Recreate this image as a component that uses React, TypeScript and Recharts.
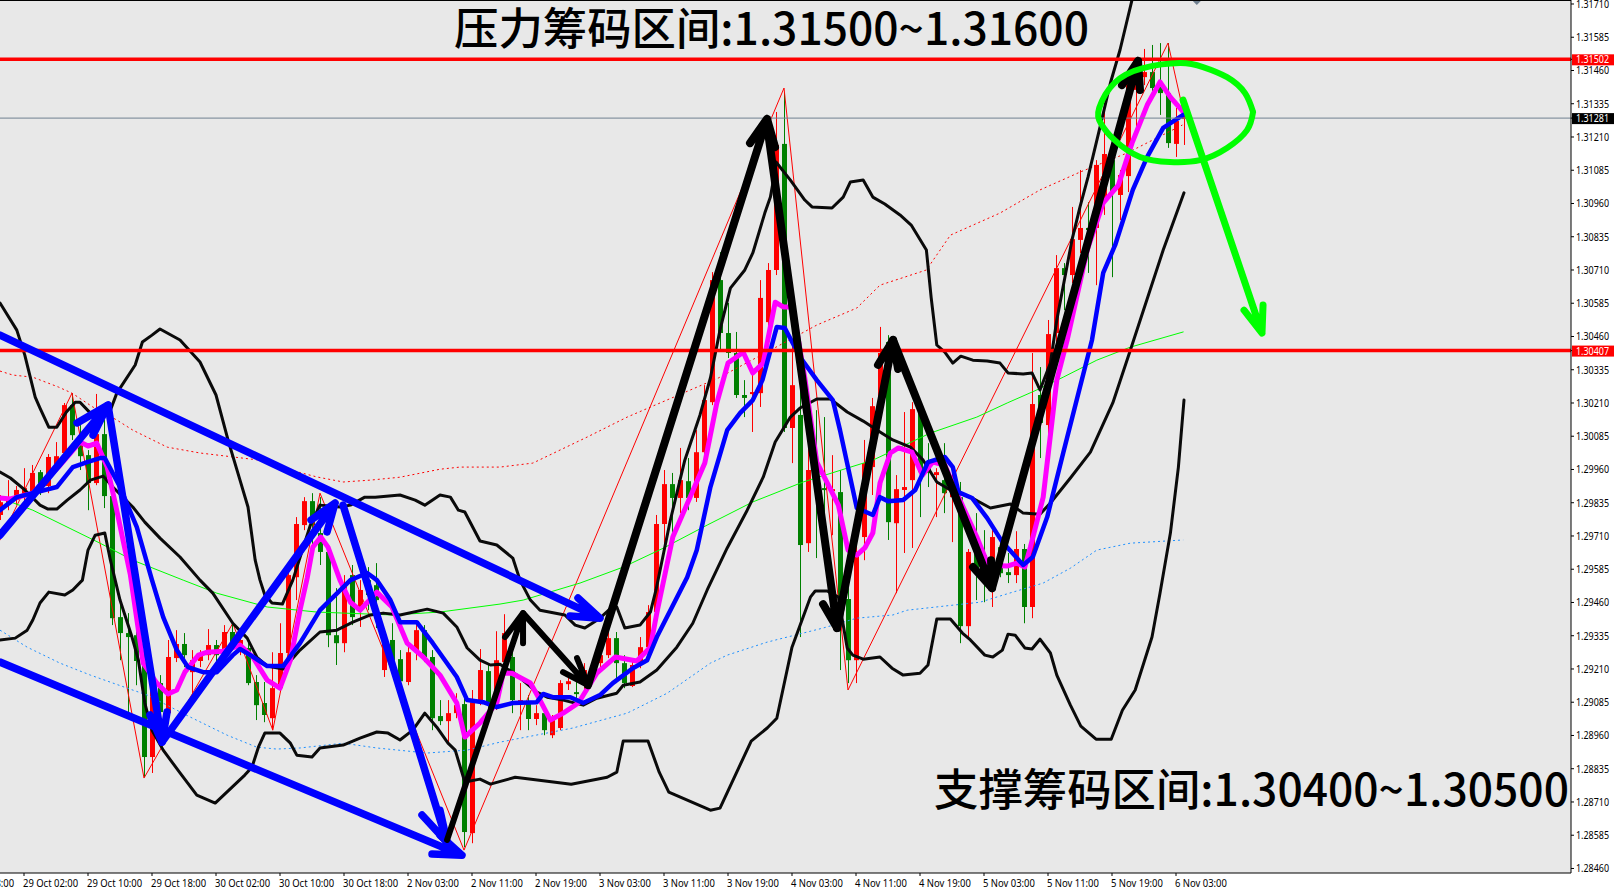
import { ComposedChart, Bar, Line, XAxis, YAxis, CartesianGrid, ReferenceLine, ReferenceDot } from "recharts";

// prices are in points above 1.28000, x is the H1 bar index
const opens = [1789,1834,1845,1856,1871,1950,1898,1973,2022,2202,2089,2014,1909,2093,1860,1405,1345,1337,1232,879,1157,1044,1251,1304,1198,1240,1262,1300,1281,1349,1289,1289,1161,1082,1025,1138,1270,1555,1751,1841,1721,1650,1337,1307,1563,1443,1544,1525,1206,1319,1247,1161,1273,1356,1255,1033,1014,1044,1078,593,1085,1202,1082,1236,1255,1082,1082,1022,1044,961,988,1153,1123,1161,1198,1232,1262,1326,1232,1146,1225,1292,1424,1755,1905,1853,1916,1853,2025,2213,2672,2473,2398,2240,2247,2247,2514,2710,3184,2116,2165,1683,1958,1890,1879,1875,1473,1243,1706,1969,2195,2439,1758,1883,1920,2172,1977,1939,1920,1856,1856,1371,1646,1638,1608,1668,1574,1563,1661,1443,2240,2127,2473,2717,2691,2823,2868,2868,2973,3123,2992,3063,3387,3435,3454,3417,3375,3184,3278];
const closes = [1837,1856,1883,1890,1947,1883,2007,2010,2202,2089,2010,1909,2093,1860,1401,1345,1330,1240,879,1138,1048,1255,1304,1262,1243,1262,1300,1262,1349,1307,1319,1157,1074,1037,1138,1270,1563,1755,1841,1751,1650,1337,1307,1525,1405,1507,1488,1469,1319,1243,1164,1273,1356,1255,1025,1014,1044,1074,597,1085,1206,1085,1243,1345,1093,1093,1022,1044,980,1018,1157,1164,1116,1206,1213,1262,1326,1232,1157,1225,1292,1424,1755,1905,1853,1920,1853,2025,2221,2672,2473,2398,2240,2229,2251,2605,2710,3180,2116,2277,1676,1958,1883,1883,1886,1469,1243,1646,1984,2198,2398,1762,1886,1894,2187,1950,1947,1950,1871,1920,1371,1650,1582,1582,1706,1570,1563,1661,1443,2206,2135,2469,2717,2691,2826,2868,2860,3105,3146,3000,3067,3424,3462,3454,3394,3375,3187,3270,3285];
const highs = [1864,1920,1898,1965,1977,1958,2018,2063,2210,2247,2127,2033,2244,2146,1883,1469,1420,1394,1281,1168,1187,1319,1356,1345,1281,1281,1360,1319,1375,1382,1349,1319,1187,1161,1273,1382,1601,1781,1856,1871,1856,1676,1514,1563,1601,1544,1593,1608,1356,1382,1281,1300,1375,1375,1281,1093,1093,1119,1131,1131,1285,1225,1352,1416,1281,1157,1112,1074,1063,1037,1168,1194,1168,1232,1243,1330,1349,1349,1262,1243,1330,1450,1789,1958,1947,2041,2003,2108,2277,2702,2777,2586,2477,2296,2315,2672,2736,3304,3375,2428,2277,2146,2183,2157,2014,1958,1514,1713,2071,2229,2496,2465,1939,2176,2213,2202,2059,1965,2059,1958,1913,1661,1796,1732,1732,1695,1646,1728,1680,2398,2345,2522,2766,2736,2947,3086,2965,3123,3338,3142,3086,3462,3462,3541,3556,3563,3563,3319,3293];
const lows = [1770,1807,1826,1834,1856,1864,1871,1958,2010,2071,1958,1807,1901,1815,1375,1243,1044,1149,804,819,999,1018,1236,1217,1119,1217,1243,1225,1262,1281,1262,1149,1018,1010,980,1123,1243,1469,1732,1676,1601,1292,1225,1273,1375,1368,1431,1364,1180,1213,1146,1149,1243,1236,980,999,931,1025,540,555,1074,1044,1056,1225,1044,980,980,999,961,950,980,1131,1093,1131,1176,1206,1251,1157,1138,1142,1213,1281,1413,1668,1668,1796,1807,1838,2014,2202,2409,2379,2229,2157,2101,2195,2492,2691,2101,1984,1330,1650,1627,1732,1713,1206,1157,1157,1619,1864,2146,1695,1495,1646,1665,1781,1894,1781,1796,1687,1307,1330,1469,1461,1443,1555,1533,1533,1382,1401,2003,2044,2428,2559,2661,2774,2699,2653,2917,2683,2898,3003,3225,3405,3375,3293,3169,3135,3180];

const xTickIdx = [-5,3,11,19,27,35,43,51,59,67,75,83,91,99,107,115,123,131,139,147];
const xTickLabels = ["28 Oct 18:00","29 Oct 02:00","29 Oct 10:00","29 Oct 18:00","30 Oct 02:00","30 Oct 10:00","30 Oct 18:00","2 Nov 03:00","2 Nov 11:00","2 Nov 19:00","3 Nov 03:00","3 Nov 11:00","3 Nov 19:00","4 Nov 03:00","4 Nov 11:00","4 Nov 19:00","5 Nov 03:00","5 Nov 11:00","5 Nov 19:00","6 Nov 03:00"];
const yTicks = [3710,3585,3460,3335,3210,3085,2960,2835,2710,2585,2460,2335,2210,2085,1960,1835,1710,1585,1460,1335,1210,1085,960,835,710,585,460];
const RES_PRICE = 3502;
const SUP_PRICE = 2407;
const LAST_PRICE = 3281;

type Pt = [number, number];

const upperBand: Pt[] = [[0,2586],[2.1,2484],[3.1,2390],[4.4,2232],[5,2191],[6.1,2119],[7.1,2119],[8.3,2176],[9.4,2213],[10,2213],[11.3,2172],[12.5,2146],[13.8,2183],[14.6,2247],[16.9,2353],[17.8,2439],[19,2465],[20,2488],[22.5,2447],[25,2364],[27,2240],[28.5,2071],[30,1920],[31,1819],[31.9,1619],[32.5,1544],[33.1,1488],[34,1458],[35.3,1454],[36.6,1544],[38.8,1751],[40,1826],[42.5,1819],[43.8,1826],[45.6,1856],[46.9,1856],[50,1864],[51.9,1845],[53.1,1826],[55,1864],[56.3,1856],[57.3,1807],[58.1,1800],[60,1691],[62.1,1676],[64.1,1627],[65,1544],[66.3,1469],[67.5,1431],[70.6,1413],[71.9,1375],[73.1,1364],[75,1401],[76.5,1443],[77.1,1443],[78.1,1364],[80,1375],[81.3,1424],[82,1507],[83.8,1770],[85.6,1995],[87.5,2165],[88.8,2304],[90,2484],[91.3,2642],[93.1,2710],[94.1,2774],[95.6,2924],[96.3,2984],[96.9,3086],[97,3116],[98.8,3048],[100.6,2973],[101.5,2947],[104,2943],[105.4,2984],[106.3,3041],[107.9,3048],[109.1,2984],[110.6,2958],[112.5,2917],[113.9,2879],[115.8,2785],[116.4,2605],[117.1,2428],[118.1,2401],[119.1,2360],[120.1,2386],[121.6,2371],[123.4,2368],[125,2360],[126,2323],[127.9,2319],[129,2323],[130,2259],[131.3,2360],[132.1,2522],[134,2823],[135,2947],[136,3059],[137.5,3247],[138.8,3413],[140,3537],[141.5,3725],[143.1,3875]];
const lowerBand: Pt[] = [[0,1319],[1.9,1326],[3.4,1356],[4.1,1394],[5,1458],[6.1,1499],[8.1,1488],[9.1,1507],[10.3,1544],[11,1657],[11.9,1713],[13.1,1721],[13.8,1619],[15,1469],[16.5,1330],[17.3,1243],[18.1,1082],[19,980],[20.4,905],[22.5,819],[24.6,736],[26.9,706],[30.6,811],[31.5,841],[32.3,916],[33.1,969],[35,969],[36.3,931],[37.1,886],[39,879],[40,913],[42.9,924],[45,950],[47.1,973],[48.5,969],[50,943],[51.6,980],[53.1,1044],[54.6,991],[56,931],[56.9,905],[58.1,785],[60,796],[61.3,777],[64.4,803],[71.4,777],[75.9,803],[77.1,822],[77.9,939],[81,939],[82.4,822],[83.6,747],[88.8,679],[90,687],[93.9,939],[95.9,988],[97.1,1025],[99,1292],[101.3,1480],[101.9,1503],[103.4,1503],[104.8,1480],[105.9,1289],[106.6,1262],[107.9,1247],[110,1255],[111.5,1213],[112.9,1187],[115,1194],[116,1225],[117.1,1398],[118.8,1398],[120.3,1345],[121.3,1319],[123.1,1262],[124.1,1255],[125.3,1281],[126,1341],[126.9,1337],[128.1,1289],[129,1285],[130,1322],[131.3,1270],[132.1,1187],[133.8,1074],[135.1,995],[137,946],[138.9,946],[140.3,1055],[141.9,1131],[144,1330],[145,1495],[146.3,1721],[147.3,1969],[148,2221]];
const midBand: Pt[] = [[0,1950],[1.3,1928],[3.1,1883],[5,1826],[6,1811],[7.1,1811],[8.4,1845],[10,1883],[11.3,1920],[12.9,1935],[14.1,1894],[16.6,1819],[18.1,1762],[20,1702],[22.5,1631],[25,1544],[26.6,1495],[29.1,1382],[30.9,1326],[32.1,1255],[33.4,1221],[35.4,1210],[37.5,1281],[40,1349],[42.1,1356],[44.1,1386],[46.3,1413],[47.9,1420],[50,1413],[53.4,1435],[55.4,1420],[57.1,1368],[58.4,1289],[60,1243],[61.3,1225],[62.5,1228],[64.6,1187],[67.1,1123],[68.4,1104],[70.4,1093],[72.9,1074],[74.6,1100],[77.1,1119],[77.9,1149],[80,1161],[82.1,1206],[84.6,1292],[86.6,1382],[88.4,1507],[90.9,1665],[93.4,1807],[95.4,1931],[96.9,2063],[98.8,2157],[100,2191],[102.1,2225],[103.8,2225],[105.9,2176],[107.9,2142],[110,2101],[111.6,2071],[113.8,2044],[115.4,1995],[117.1,1913],[118.8,1883],[121.3,1856],[123.8,1815],[126.3,1830],[127.9,1796],[130,1792],[131.3,1834],[133.8,1928],[136.3,2025],[139.1,2210],[141.3,2409],[145.4,2785],[148,3000]];
const slowRed: Pt[] = [[0,2330],[1.6,2315],[4.1,2307],[7.3,2270],[9,2247],[11.6,2195],[14.6,2146],[16.6,2108],[20.9,2044],[25,2022],[32.5,1995],[36.3,1958],[39.6,1932],[42.9,1913],[46.3,1920],[50,1931],[55,1961],[57.5,1969],[62.5,1969],[66.6,1984],[73.4,2082],[78.4,2157],[82.5,2210],[89.8,2304],[97.5,2428],[102.1,2503],[107.1,2567],[110,2653],[115.8,2710],[118.8,2841],[125,2924],[130,3011],[135,3078],[140.9,3150],[147.8,3255]];
const slowBlue: Pt[] = [[0,1356],[3.4,1292],[7.5,1232],[11.3,1187],[15.9,1138],[18.4,1112],[23.8,1029],[28.4,961],[32.1,916],[34.6,909],[37.5,913],[42.9,931],[47.1,913],[53.4,894],[58.4,905],[62.5,935],[71.6,988],[78.4,1044],[83.4,1119],[88.8,1232],[90.9,1262],[95.9,1311],[102.9,1364],[107.1,1401],[111.6,1413],[113.4,1431],[117.9,1446],[122.5,1461],[125.4,1488],[130.4,1533],[133.8,1589],[137.1,1657],[141.3,1683],[147.9,1695]];
const slowGreen: Pt[] = [[0,1853],[4.1,1807],[12.5,1683],[16.6,1619],[22.9,1544],[27.1,1495],[33.4,1443],[39.6,1424],[49.1,1413],[55,1424],[62.5,1454],[65.4,1469],[72.5,1533],[77.9,1593],[82.9,1664],[88.4,1751],[94.1,1838],[100.4,1913],[105.9,1965],[109.1,1995],[116.3,2097],[122.1,2157],[125.9,2210],[129.6,2259],[132.9,2307],[137.1,2371],[141.3,2420],[147.9,2477]];
const zigzag: Pt[] = [[0,1695],[9,2247],[18,800],[29.1,1382],[34.1,980],[40,1871],[58,529],[98,3394],[106,1131],[146,3563],[148,3293]];
const fastMagenta: Pt[] = [[0,1853],[1.3,1849],[4.1,1871],[7.3,1969],[10,2063],[11,2048],[12.1,2059],[13.4,1969],[14.4,1834],[16.3,1563],[17.9,1232],[19.6,1157],[21,1116],[22.1,1131],[23.1,1198],[24.8,1262],[25.9,1273],[27.9,1277],[30,1300],[31.6,1255],[33.4,1168],[35,1138],[36.3,1243],[37.5,1431],[38.4,1552],[39.1,1668],[40.1,1706],[41,1668],[42.5,1544],[43.8,1461],[45,1431],[47.1,1499],[49,1443],[50.9,1307],[52.9,1255],[55,1187],[57.1,1082],[58.1,954],[60,1007],[62.1,1082],[62.9,1194],[64,1194],[66.3,1157],[67.5,1093],[68.8,1018],[70.4,1044],[72.3,1082],[74.6,1194],[76.9,1255],[79.6,1240],[81.3,1292],[82.1,1420],[84.1,1706],[85.4,1796],[88.1,1984],[89.6,2210],[91,2360],[92.9,2401],[94.1,2323],[95.4,2360],[96.9,2589],[97.9,2571],[99.1,2571],[100.6,2304],[102.1,1988],[104.8,1826],[106,1657],[107.1,1638],[108.1,1665],[109.1,1721],[110,1909],[111.3,2022],[112.3,2041],[114,2025],[115.3,1939],[116.6,1988],[118.1,1977],[119.6,1871],[122.1,1706],[123.5,1601],[125.9,1597],[127.1,1608],[128.1,1593],[128.8,1668],[130.4,1856],[132.1,2296],[133.4,2447],[135.9,2785],[137.9,2962],[139.8,3029],[141.5,3187],[143.4,3330],[145,3417],[146.3,3360],[147.9,3304]];
const fastBlue: Pt[] = [[0,1807],[2.1,1856],[4.1,1871],[7.1,1894],[9.1,1969],[10.9,1988],[12.5,2003],[13.1,2003],[15,1894],[17.1,1743],[19,1544],[20.4,1405],[22.1,1281],[23.5,1217],[25.4,1198],[27.1,1198],[29.1,1262],[30,1285],[31.3,1262],[33.4,1221],[35.4,1221],[37.5,1307],[40,1431],[43.8,1544],[45.9,1571],[47.1,1544],[48.8,1469],[50,1386],[52.1,1386],[54.1,1307],[57.1,1180],[58.4,1093],[60.4,1085],[62.1,1067],[64.1,1082],[67.1,1085],[67.9,1116],[69.1,1104],[71.3,1104],[72.9,1082],[75,1112],[76.6,1157],[79.1,1213],[80.9,1243],[82.1,1330],[85.9,1555],[87.1,1657],[88.8,1894],[90.9,2108],[92.5,2172],[94.1,2221],[95.3,2296],[97.1,2496],[98.1,2492],[100,2383],[102.1,2296],[104.1,2221],[105,2108],[107.1,1815],[109.1,1789],[110,1856],[111,1841],[112.9,1845],[114.4,1883],[116,1988],[118.1,2007],[119.1,1969],[119.8,1875],[121.5,1853],[123.4,1777],[125.3,1687],[127.9,1601],[129.1,1631],[130.9,1781],[132.9,2022],[135,2270],[136.5,2447],[137.9,2699],[139.4,2804],[141.6,3011],[143.4,3135],[145.4,3244],[147.9,3293]];

// hand drawn arrows: tail, tip, barb, tip, barb
const blueArrows: Pt[][] = [
  [[0,2465],[75,1401],[72.25,1477],[75,1401],[71.25,1409]],
  [[0,1236],[57.75,510],[54,514],[57.75,510],[55,585]],
  [[0,1713],[13.5,2202],[9.63,2135],[13.5,2202],[11.63,2089]],
  [[13.5,2202],[20.25,935],[18.75,1037],[20.25,935],[20.88,1048]],
  [[20.25,935],[41.88,1834],[38.88,1770],[41.88,1834],[40.88,1725]],
  [[42.88,1826],[55.88,559],[52.75,661],[55.88,559],[55,679]],
];
const blackArrows: Pt[][] = [
  [[55.88,567],[65.38,1420],[63.13,1330],[65.38,1420],[65.38,1307]],
  [[65.38,1420],[73.5,1149],[70.38,1198],[73.5,1149],[72.13,1251]],
  [[73.5,1149],[95.88,3278],[93.75,3187],[95.88,3278],[96.88,3172]],
  [[95.88,3255],[104.63,1364],[102.88,1454],[104.63,1364],[105.25,1469]],
  [[104.63,1364],[111.63,2447],[109.75,2353],[111.63,2447],[112.25,2338]],
  [[111.63,2447],[124,1514],[121.63,1593],[124,1514],[123.88,1619]],
  [[124,1514],[142.25,3496],[140.25,3405],[142.25,3496],[142.5,3387]],
];
const greenArrow: Pt[] = [[147.88,3349],[157.75,2473],[155.5,2559],[157.75,2473],[157.88,2578]];
const greenRing: Pt[] = [[156.63,3304],[155.88,3236],[153.38,3169],[150,3123],[146.25,3116],[142.5,3135],[139.3,3199],[137.6,3262],[137.4,3319],[139.3,3413],[142.88,3469],[147.5,3488],[150.38,3473],[153.38,3435],[155.63,3375],[156.63,3304]];

const candles = opens.map((open, i) => ({ x: i, open, close: closes[i], high: highs[i], low: lows[i] }));
const toRows = (pts: Pt[]) => pts.map(([x, y]) => ({ x, y }));
const priceText = (v: number) => (1.28 + v / 100000).toFixed(5);
const AXIS_FONT = "'Noto Sans', sans-serif";
const RED = "#ff0000";
const GREEN = "#008000";

function Candle(props: any) {
  const { x, y, width, height, payload } = props;
  const { open, close, high, low } = payload;
  const cx = Math.round(x + width / 2);
  const yOf = (v: number) => y + ((high - v) / (high - low)) * height;
  const color = close >= open ? RED : GREEN;
  const top = yOf(Math.max(open, close));
  const bottom = yOf(Math.min(open, close));
  return (
    <g>
      <rect x={cx} y={y} width={1} height={height} fill={color} />
      <rect x={cx - 2} y={top} width={5} height={Math.max(bottom - top, 2)} fill={color} />
    </g>
  );
}

// the platform font is narrower than anything installed, so squeeze it a little
function AxisText({ x, y, fill, squeeze = 0.85, children }: any) {
  return (
    <text transform={`translate(${x} ${y}) scale(${squeeze} 1)`} fontFamily={AXIS_FONT} fontSize={10.5} fill={fill}>
      {children}
    </text>
  );
}

function XTick(props: any) {
  const { x, y, index } = props;
  return <AxisText x={x - 1} y={y + 9} fill="#000" squeeze={0.9}>{xTickLabels[index]}</AxisText>;
}

function YTick(props: any) {
  const { x, y, payload } = props;
  const v = payload.value;
  if (v === RES_PRICE || v === SUP_PRICE || v === LAST_PRICE) {
    return (
      <g>
        <rect x={x - 4} y={y - 5} width={42} height={11} fill={v === LAST_PRICE ? "#000" : RED} />
        <AxisText x={x} y={y + 4} fill="#fff">{priceText(v)}</AxisText>
      </g>
    );
  }
  return <AxisText x={x} y={y + 4} fill="#000">{priceText(v)}</AxisText>;
}

function Marker(props: any) {
  const { cx, cy } = props;
  return <path d={`M${cx - 5} ${cy}L${cx + 5} ${cy}L${cx} ${cy + 5}Z`} fill="#708090" />;
}

const titleStyle = {
  position: "absolute" as const,
  fontFamily: "'Noto Sans CJK SC', sans-serif",
  fontSize: 44.4,
  fontWeight: 500,
  lineHeight: "60px",
  color: "#000",
  whiteSpace: "nowrap" as const,
};

const line = (key: string, pts: Pt[], color: string, width: number, dash?: string, type: any = "linear") => (
  <Line
    key={key}
    name={key}
    data={toRows(pts)}
    dataKey="y"
    type={type}
    stroke={color}
    strokeWidth={width}
    strokeDasharray={dash}
    strokeLinecap={dash ? undefined : "round"}
    strokeLinejoin="round"
    dot={false}
    activeDot={false}
    legendType="none"
    isAnimationActive={false}
  />
);

export default function App() {
  return (
    <div style={{ position: "absolute", left: 0, top: 0, width: 1614, height: 891, background: "#fff", overflow: "hidden" }}>
      <ComposedChart width={1614} height={891} data={candles} margin={{ top: 0, right: 0, bottom: 0, left: 0 }}>
        <CartesianGrid fill="#e8e8e8" horizontal={false} vertical={false} />
        <XAxis
          dataKey="x"
          type="number"
          domain={[0, 196.375]}
          allowDataOverflow
          ticks={xTickIdx}
          interval={0}
          height={18}
          tickSize={3}
          stroke="#000"
          tick={<XTick />}
        />
        <YAxis
          type="number"
          orientation="right"
          domain={[443, 3725]}
          allowDataOverflow
          ticks={[...yTicks, RES_PRICE, LAST_PRICE, SUP_PRICE]}
          interval={0}
          width={43}
          tickSize={3}
          stroke="#000"
          tick={<YTick />}
        />
        <Bar dataKey={(d: any) => [d.low, d.high]} barSize={5} shape={<Candle />} isAnimationActive={false} />
        {line("zigzag", zigzag, RED, 1)}
        {line("slowRed", slowRed, RED, 1, "2 3")}
        {line("slowBlue", slowBlue, "#1e90ff", 1, "2 3")}
        {line("slowGreen", slowGreen, "#00ff00", 1)}
        {line("upperBand", upperBand, "#0a0a0a", 3)}
        {line("midBand", midBand, "#0a0a0a", 3)}
        {line("lowerBand", lowerBand, "#0a0a0a", 3)}
        {line("fastMagenta", fastMagenta, "#ff00ff", 5)}
        {line("fastBlue", fastBlue, "#0000ff", 4.5)}
        <ReferenceLine y={LAST_PRICE} stroke="#708090" strokeWidth={1} />
        <ReferenceLine y={RES_PRICE} stroke={RED} strokeWidth={3.5} />
        <ReferenceLine y={SUP_PRICE} stroke={RED} strokeWidth={3.5} />
        {blueArrows.map((a, i) => line(`blueArrow${i}`, a, "#0000ff", 7.5))}
        {blackArrows.map((a, i) => line(`blackArrow${i}`, a, "#000", i < 2 ? 6 : 8))}
        {line("greenArrow", greenArrow, "#00ff00", 7)}
        {line("greenRing", greenRing, "#00ff00", 6, undefined, "natural")}
        <ReferenceDot x={149.6} y={3725} r={5} shape={<Marker />} />
      </ComposedChart>
      <div style={{ position: "absolute", left: 0, top: 0, width: 1571, height: 1, background: "#000" }} />
      <div style={{ ...titleStyle, left: 454, top: -4 }}>压力筹码区间:1.31500~1.31600</div>
      <div style={{ ...titleStyle, left: 934, top: 757 }}>支撑筹码区间:1.30400~1.30500</div>
    </div>
  );
}
